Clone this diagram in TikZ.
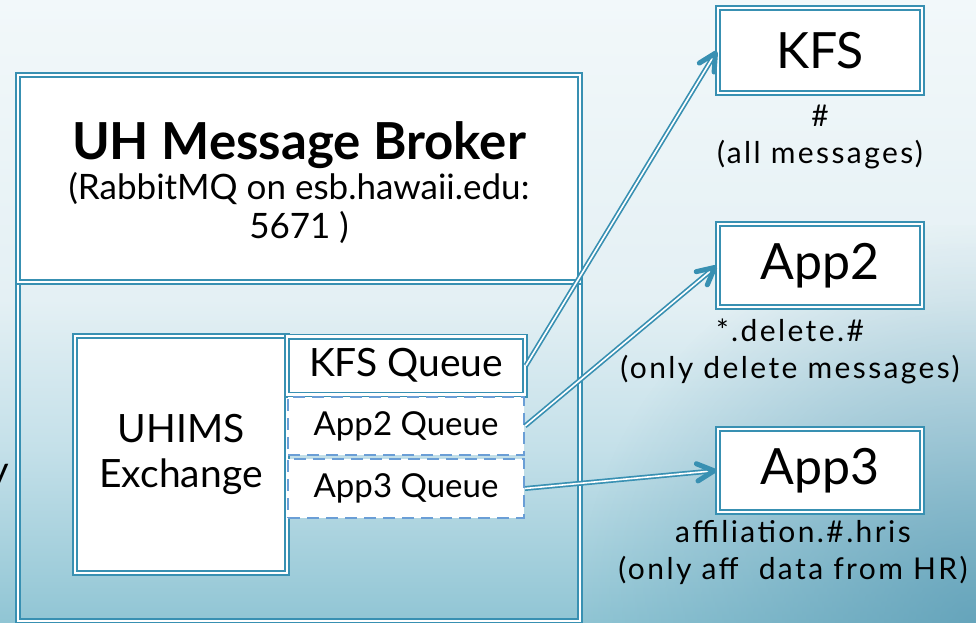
\documentclass[tikz,border=0pt]{standalone}
\usepackage{fontspec}
\setmainfont{Lato}
\usetikzlibrary{calc,fadings}
\definecolor{brd}{HTML}{3890B2}
\definecolor{dsh}{HTML}{6A9ED6}
\definecolor{bgA}{HTML}{F2F8FA}
\definecolor{bgB}{HTML}{E4F0F4}
\definecolor{bgC}{HTML}{C4E0E9}
\definecolor{bgD}{HTML}{90C5D4}
\definecolor{bgdark}{HTML}{4F93AE}
\pgfdeclareverticalshading{bgv}{100bp}{color(0bp)=(bgD); color(25bp)=(bgD); color(39bp)=(bgC); color(51bp)=(bgB); color(75bp)=(bgA); color(100bp)=(bgA)}
\tikzfading[name=cornerfade, inner color=transparent!35, outer color=transparent!100]
\newfontfamily\lblfont[LetterSpace=8]{Lato}
\tikzset{
  dbox/.style={draw=brd, double=white, line width=1.9pt, double distance=2.2pt, inner sep=0pt},
  dqbox/.style={draw=dsh, dash pattern=on 12pt off 7pt, line width=2pt, fill=white, inner sep=0pt},
  conn/.style={draw=brd, double=white, line width=1.7pt, double distance=1.6pt, shorten >=3pt},
  tipline/.style={draw=brd, line width=5pt, line cap=round, line join=round},
  lbl/.style={align=center, font=\lblfont\fontsize{30}{37}\selectfont, inner sep=0pt},
  ttl/.style={anchor=base, inner sep=0pt}
}
\begin{document}
\begin{tikzpicture}[x=1pt,y=-1pt]
\clip (0,0) rectangle (976,623);
\shade[shading=bgv] (0,0) rectangle (976,623);
\fill[bgdark, path fading=cornerfade] (576,223) rectangle (1376,1023);

% fragment of text at left edge
\node[anchor=base east, font=\fontsize{38}{40}\selectfont, inner sep=0pt] (frag) at (9,483) {y};

% broker frame
\node[dbox, minimum width=562pt, minimum height=546pt] (broker) at (299,348) {};
\node[dbox, fill=white, minimum width=562pt, minimum height=207pt] (title) at (299,178.5) {};
\node[ttl, font=\fontsize{51}{56}\selectfont\bfseries] (t1) at (299,159) {UH Message Broker};
\node[ttl, font=\fontsize{35}{40}\selectfont] (t2) at (299,199) {(RabbitMQ on esb.hawaii.edu:};
\node[ttl, font=\fontsize{35}{40}\selectfont] (t3) at (299,238) {5671 )};

% exchange and queues
\node[dbox, fill=white, minimum width=212pt, minimum height=237pt, align=center, font=\fontsize{39}{45}\selectfont] (exch) at (181,454.5) {UHIMS\\Exchange};
\node[dbox, fill=white, minimum width=238pt, minimum height=58pt, font=\fontsize{39}{42}\selectfont] (q1) at (406,365.5) {KFS Queue};
\node[dqbox, minimum width=236pt, minimum height=58pt, font=\fontsize{33}{36}\selectfont] (q2) at (406,426) {App2 Queue};
\node[dqbox, minimum width=236pt, minimum height=59pt, font=\fontsize{33}{36}\selectfont] (q3) at (406,488.5) {App3 Queue};

% consumers
\node[dbox, fill=white, minimum width=204pt, minimum height=85pt, font=\fontsize{50}{54}\selectfont] (kfs) at (820,50.5) {KFS};
\node[dbox, fill=white, minimum width=204pt, minimum height=83pt, font=\fontsize{50}{54}\selectfont] (app2) at (820,265.5) {App2};
\node[dbox, fill=white, minimum width=204pt, minimum height=83pt, font=\fontsize{50}{54}\selectfont] (app3) at (820,470.5) {App3};

% routing keys
\node[lbl] (kfsl) at (820,137) {\#\\(all messages)};
\node[lbl] (app2l) at (790,351) {*.delete.\#\\(only delete messages)};
\node[lbl] (app3l) at (793,553) {affiliation.\#.hris\\(only aff\ \ data from HR)};

% connectors
\draw[conn] (q1.east) -- (kfs.west);
\draw[conn] (q2.east) -- (app2.west);
\draw[conn] (q3.east) -- (app3.west);
\coordinate (k0) at ($(kfs.west)!3pt!(q1.east)$);
\coordinate (a20) at ($(app2.west)!3pt!(q2.east)$);
\coordinate (a30) at ($(app3.west)!3pt!(q3.east)$);
\draw[tipline] ($(k0)!19pt!27:(q1.east)$) -- (k0) -- ($(k0)!19pt!-27:(q1.east)$);
\draw[tipline] ($(a20)!19pt!27:(q2.east)$) -- (a20) -- ($(a20)!19pt!-27:(q2.east)$);
\draw[tipline] ($(a30)!19pt!27:(q3.east)$) -- (a30) -- ($(a30)!19pt!-27:(q3.east)$);
\end{tikzpicture}
\end{document}
